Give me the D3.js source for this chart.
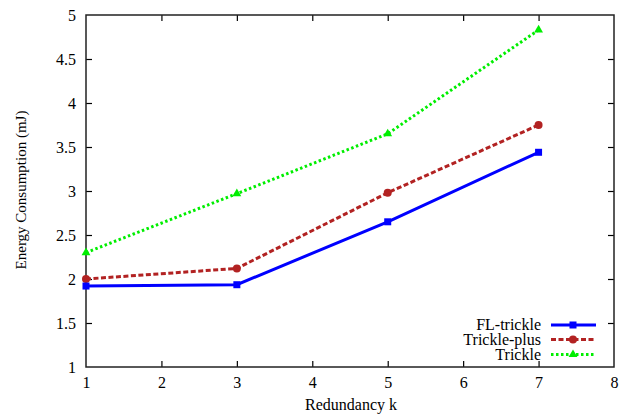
<!DOCTYPE html>
<html>
<head>
<meta charset="utf-8">
<script src="https://cdn.jsdelivr.net/npm/d3@7"></script>
<style>
  html, body { margin: 0; padding: 0; background: #fff; }
  svg { display: block; }
</style>
</head>
<body>
<svg id="chart" width="638" height="416"></svg>
<script>
// Redundancy values on the x axis
const redundancy = [1, 3, 5, 7];

// Energy consumption (mJ) per protocol
const flTrickle   = [1.92, 1.935, 2.65, 3.44];
const tricklePlus = [2.00, 2.12, 2.98, 3.75];
const trickle     = [2.30, 2.97, 3.65, 4.83];

const seriesNames = ["FL-trickle", "Trickle-plus", "Trickle"];

const xTicks = [1, 2, 3, 4, 5, 6, 7, 8];
const yTicks = [1, 1.5, 2, 2.5, 3, 3.5, 4, 4.5, 5];
const yTickLabels = ["1", "1.5", "2", "2.5", "3", "3.5", "4", "4.5", "5"];

const FONT = '"Liberation Serif", "Times New Roman", Tinos, serif';
const svg = d3.select("#chart");
const plotLeft = 86, plotRight = 614, plotTop = 15, plotBottom = 367;

const x = d3.scaleLinear().domain([1, 8]).range([plotLeft, plotRight]);
const y = d3.scaleLinear().domain([1, 5]).range([plotBottom, plotTop]);

const tickLen = 6;

// Bottom axis with labels, ticks pointing into the plot
const gx = svg.append("g").attr("transform", `translate(0,${plotBottom})`)
  .call(d3.axisBottom(x).tickValues(xTicks).tickFormat(d3.format("d"))
    .tickSizeInner(-tickLen).tickSizeOuter(0).tickPadding(10));
// Top mirror ticks
const gxt = svg.append("g").attr("transform", `translate(0,${plotTop})`)
  .call(d3.axisTop(x).tickValues(xTicks).tickFormat("")
    .tickSizeInner(-tickLen).tickSizeOuter(0));
// Left axis with labels
const gy = svg.append("g").attr("transform", `translate(${plotLeft},0)`)
  .call(d3.axisLeft(y).tickValues(yTicks).tickFormat((d, i) => yTickLabels[i])
    .tickSizeInner(-tickLen).tickSizeOuter(0).tickPadding(10));
// Right mirror ticks
const gyr = svg.append("g").attr("transform", `translate(${plotRight},0)`)
  .call(d3.axisRight(y).tickValues(yTicks).tickFormat("")
    .tickSizeInner(-tickLen).tickSizeOuter(0));

[gx, gxt, gy, gyr].forEach(g => {
  g.attr("font-family", FONT).attr("font-size", 16);
  g.select(".domain").remove();
  g.selectAll(".tick line").attr("stroke", "#000").attr("stroke-width", 1.2);
  g.selectAll("text").attr("fill", "#000")
    .style("font-family", FONT).style("font-size", "16px");
});
// Drop end ticks that sit on the frame corners
gx.selectAll(".tick").filter(d => d === 1 || d === 8).select("line").remove();
gxt.selectAll(".tick").filter(d => d === 1 || d === 8).select("line").remove();
gy.selectAll(".tick").filter(d => d === 1 || d === 5).select("line").remove();
gyr.selectAll(".tick").filter(d => d === 1 || d === 5).select("line").remove();

// Frame
svg.append("rect")
  .attr("x", plotLeft).attr("y", plotTop)
  .attr("width", plotRight - plotLeft).attr("height", plotBottom - plotTop)
  .attr("fill", "none").attr("stroke", "#222").attr("stroke-width", 1.5);

// Axis titles
svg.append("text")
  .attr("x", (plotLeft + plotRight) / 2 + 1).attr("y", 410)
  .attr("text-anchor", "middle")
  .style("font-family", FONT).style("font-size", "16px").attr("fill", "#000")
  .text("Redundancy k");
svg.append("text")
  .attr("transform", `translate(26,${(plotTop + plotBottom) / 2 - 1}) rotate(-90)`)
  .attr("text-anchor", "middle")
  .style("font-family", FONT).style("font-size", "15px").attr("fill", "#000")
  .text("Energy Consumption (mJ)");

const series = [
  { name: seriesNames[0], values: flTrickle, color: "#0000ff", dash: null, marker: "square" },
  { name: seriesNames[1], values: tricklePlus, color: "#b22222", dash: "5,2.5", marker: "circle" },
  { name: seriesNames[2], values: trickle, color: "#00ee00", dash: "2.5,2.5", marker: "triangle" }
];

const line = d3.line().x(d => x(d[0])).y(d => y(d[1]));

function drawMarker(g, type, cx, cy, color) {
  if (type === "square") {
    g.append("rect").attr("x", cx - 3.5).attr("y", cy - 3.5)
      .attr("width", 7).attr("height", 7).attr("fill", color);
  } else if (type === "circle") {
    g.append("circle").attr("cx", cx).attr("cy", cy).attr("r", 4).attr("fill", color);
  } else {
    g.append("path")
      .attr("d", d3.symbol().type(d3.symbolTriangle).size(34)())
      .attr("transform", `translate(${cx},${cy})`).attr("fill", color);
  }
}

// Draw from back to front: Trickle, Trickle-plus, FL-trickle
[...series].reverse().forEach(s => {
  const pts = redundancy.map((r, i) => [r, s.values[i]]);
  const g = svg.append("g");
  g.append("path").datum(pts)
    .attr("d", line).attr("fill", "none")
    .attr("stroke", s.color).attr("stroke-width", 3)
    .attr("stroke-dasharray", s.dash);
  pts.forEach(p => drawMarker(g, s.marker, x(p[0]), y(p[1]), s.color));
});

// Legend
const legendY = [325, 339.5, 354.5];
series.forEach((s, i) => {
  const g = svg.append("g");
  g.append("text").attr("x", 541).attr("y", legendY[i] + 5)
    .attr("text-anchor", "end")
    .style("font-family", FONT).style("font-size", "16px").attr("fill", "#000")
    .text(s.name);
  g.append("line").attr("x1", 551).attr("x2", 596)
    .attr("y1", legendY[i]).attr("y2", legendY[i])
    .attr("stroke", s.color).attr("stroke-width", 3)
    .attr("stroke-dasharray", s.dash);
  drawMarker(g, s.marker, 573, legendY[i], s.color);
});
</script>
</body>
</html>
